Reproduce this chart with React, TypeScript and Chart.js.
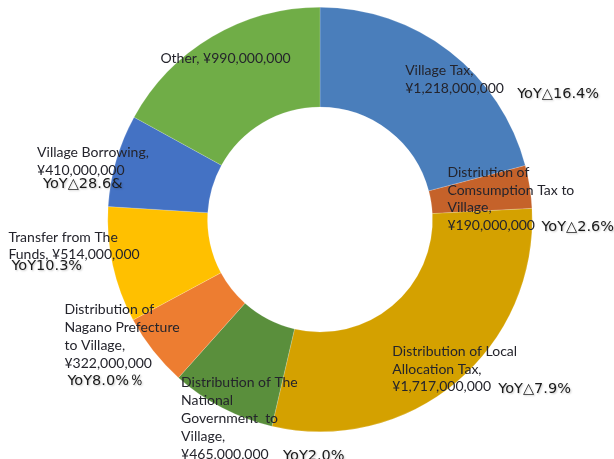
import React, { useEffect, useRef } from "react";
import { Chart, registerables } from "chart.js";

Chart.register(...registerables);

const categories = [
  "Village Tax",
  "Distriution of Comsumption Tax to Village",
  "Distribution of Local Allocation Tax",
  "Distribution of The National Government to Village",
  "Distribution of Nagano Prefecture to Village",
  "Transfer from The Funds",
  "Village Borrowing",
  "Other",
];
const amounts = [1218000000, 190000000, 1717000000, 465000000, 322000000, 514000000, 410000000, 990000000];
const colors = ["#4A7EBB", "#C5622A", "#D4A100", "#5A8F3C", "#ED7D31", "#FFC000", "#4472C4", "#70AD47"];
const labelLines = [
  ["Village Tax,", "¥1,218,000,000"],
  ["Distriution of", "Comsumption Tax to", "Village,", "¥190,000,000"],
  ["Distribution of Local", "Allocation Tax,", "¥1,717,000,000"],
  ["Distribution of The", "National", "Government  to", "Village,", "¥465,000,000"],
  ["Distribution of", "Nagano Prefecture", "to Village,", "¥322,000,000"],
  ["Transfer from The", "Funds, ¥514,000,000"],
  ["Village Borrowing,", "¥410,000,000"],
  ["Other, ¥990,000,000"],
];
const yoyLabels = ["YoY△16.4%", "YoY△2.6%", "YoY△7.9%", "YoY2.0%", "YoY8.0%％", "YoY10.3%", "YoY△28.6&", ""];

// label offsets relative to each slice's centroid (px)
const labelOffsets = [
  [-14, -20], [-33, -22], [-32, 8], [-64, 19], [-128, -10], [-153, -17], [-127, -22], [-77, -21],
];
const yoyOffsets = [
  [98, 3], [61, 33], [74, 45], [38, 93], [-125, 61], [-150, 12], [-121, 10], [0, 0],
];
const lineHeights = [18, 17.7, 17.5, 18, 18, 17, 18, 18];

const labelPlugin = {
  id: "sliceLabels",
  afterDraw(chart: any) {
    const ctx = chart.ctx;
    const meta = chart.getDatasetMeta(0);
    meta.data.forEach((arc: any, i: number) => {
      const pos = arc.tooltipPosition();
      ctx.save();
      ctx.textAlign = "left";
      ctx.textBaseline = "middle";
      ctx.fillStyle = "#24242c";
      ctx.font = "14px Lato";
      const [dx, dy] = labelOffsets[i];
      labelLines[i].forEach((line, j) => {
        ctx.fillText(line, pos.x + dx, pos.y + dy + j * lineHeights[i]);
      });
      if (yoyLabels[i]) {
        const [yx, yy] = yoyOffsets[i];
        ctx.font = "14.5px 'DejaVu Sans'";
        ctx.fillStyle = "#1a1a1a";
        ctx.shadowColor = "rgba(0,0,0,0.22)";
        ctx.shadowOffsetX = 1;
        ctx.shadowOffsetY = 1;
        ctx.shadowBlur = 2;
        ctx.fillText(yoyLabels[i], pos.x + yx, pos.y + yy);
      }
      ctx.restore();
    });
  },
};

export default function App() {
  const ref = useRef<HTMLCanvasElement>(null);
  useEffect(() => {
    document.body.style.margin = "0";
    const chart = new Chart(ref.current!, {
      type: "doughnut",
      data: {
        labels: categories,
        datasets: [
          {
            data: amounts,
            backgroundColor: colors,
            borderColor: "rgba(255,255,255,0.35)",
            borderWidth: 0.5,
          },
        ],
      },
      options: {
        animation: false,
        responsive: false,
        cutout: "53%",
        layout: { padding: { left: 106, right: 80, top: 7, bottom: 27 } },
        plugins: { legend: { display: false }, tooltip: { enabled: false } },
      },
      plugins: [labelPlugin],
    });
    return () => chart.destroy();
  }, []);
  return (
    <div style={{ width: 614, height: 459, background: "#fff" }}>
      <canvas ref={ref} width={614} height={459} style={{ width: 614, height: 459 }} />
    </div>
  );
}
